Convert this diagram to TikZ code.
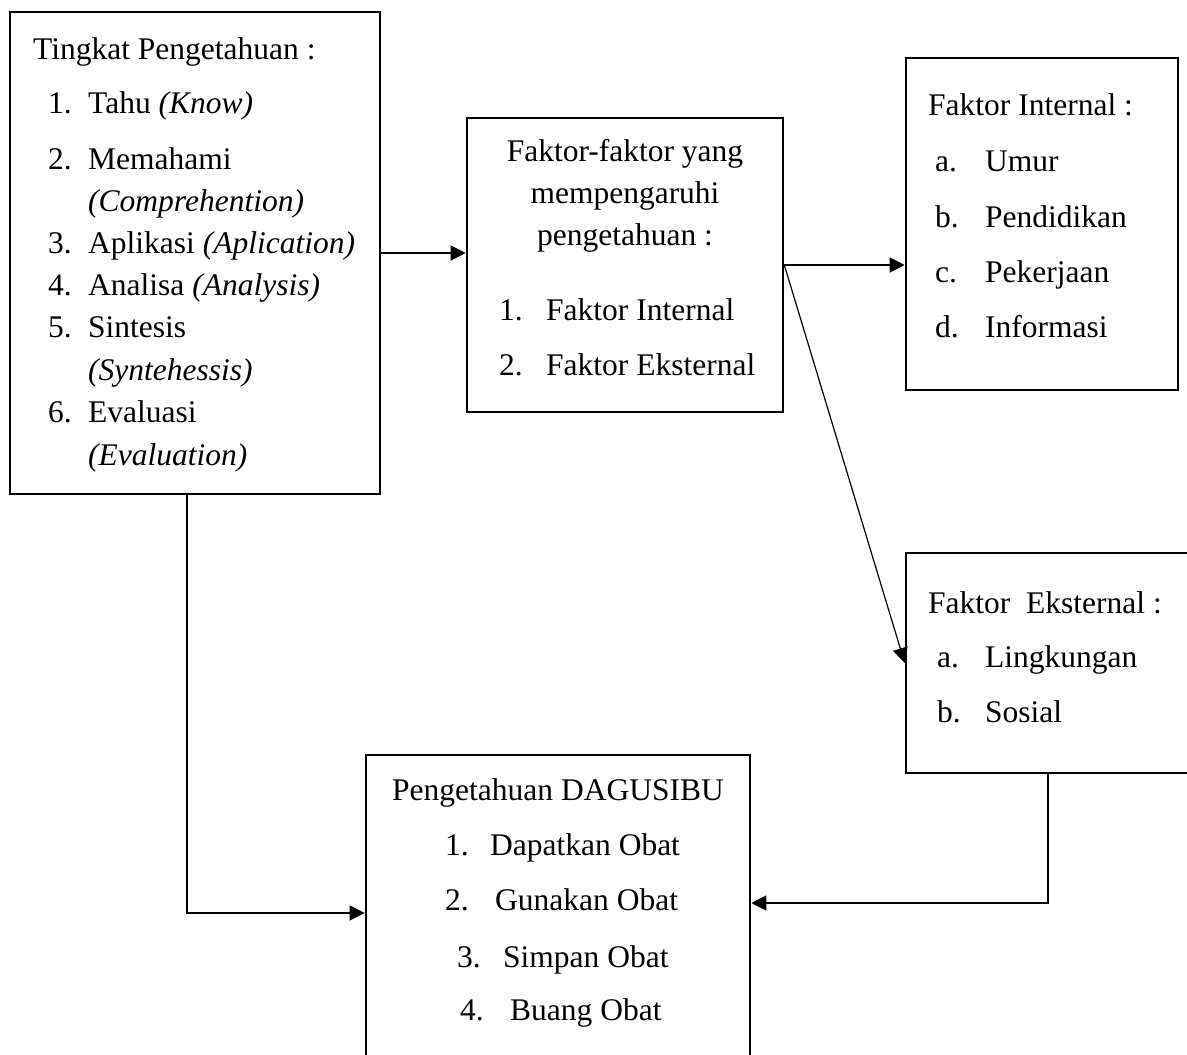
\documentclass[tikz,border=0pt]{standalone}
\usepackage{fontspec}
\setmainfont{Liberation Serif}
\usetikzlibrary{arrows.meta}
\newcommand{\itm}[3]{\makebox[#1][l]{#2}#3}
\begin{document}
\begin{tikzpicture}[x=1pt,y=-1pt,font=\fontsize{31.5}{42}\selectfont]
		\tikzset{box/.style = {draw, line width=2.6pt, inner sep=0pt}}
		\tikzset{txt/.style = {anchor=base west, inner sep=0pt}}
		\tikzset{mid/.style = {anchor=base, inner sep=0pt}}
		\tikzset{edge/.style = {-{Triangle[length=15pt,width=15pt]}, line width=1.2pt}}
		
		\clip (0,0) rectangle (1187,1055);
		
		\node[box, minimum width=370pt, minimum height=482pt] (tingkat)   at ( 195,  253) {};
		\node[box, minimum width=316pt, minimum height=294pt] (faktor)    at ( 625,  265) {};
		\node[box, minimum width=272pt, minimum height=332pt] (internal)  at (1042,  224) {};
		\node[box, minimum width=284pt, minimum height=220pt] (eksternal) at (1048,  663) {};
		\node[box, minimum width=384pt, minimum height=316pt] (dagusibu)  at ( 558,  913) {};
		
		\node[txt] (t0) at ( 33,  59) {Tingkat Pengetahuan :};
		\node[txt] (t1) at ( 48, 113) {\itm{40pt}{1.}{Tahu \textit{(Know)}}};
		\node[txt] (t2) at ( 48, 169) {\itm{40pt}{2.}{Memahami}};
		\node[txt] (t3) at ( 88, 211) {\textit{(Comprehention)}};
		\node[txt] (t4) at ( 48, 253) {\itm{40pt}{3.}{Aplikasi \textit{(Aplication)}}};
		\node[txt] (t5) at ( 48, 295) {\itm{40pt}{4.}{Analisa \textit{(Analysis)}}};
		\node[txt] (t6) at ( 48, 337) {\itm{40pt}{5.}{Sintesis}};
		\node[txt] (t7) at ( 88, 380) {\textit{(Syntehessis)}};
		\node[txt] (t8) at ( 48, 422) {\itm{40pt}{6.}{Evaluasi}};
		\node[txt] (t9) at ( 88, 465) {\textit{(Evaluation)}};
		
		\node[mid] (f0) at (625, 161) {Faktor-faktor yang};
		\node[mid] (f1) at (625, 203) {mempengaruhi};
		\node[mid] (f2) at (625, 245) {pengetahuan :};
		\node[txt] (f3) at (499, 320) {\itm{47pt}{1.}{Faktor Internal}};
		\node[txt] (f4) at (499, 375) {\itm{47pt}{2.}{Faktor Eksternal}};
		
		\node[txt] (i0) at (928, 115) {Faktor Internal :};
		\node[txt] (i1) at (935, 171) {\itm{50pt}{a.}{Umur}};
		\node[txt] (i2) at (935, 227) {\itm{50pt}{b.}{Pendidikan}};
		\node[txt] (i3) at (935, 282) {\itm{50pt}{c.}{Pekerjaan}};
		\node[txt] (i4) at (935, 337) {\itm{50pt}{d.}{Informasi}};
		
		\node[txt] (e0) at (928, 613) {Faktor\ \ Eksternal :};
		\node[txt] (e1) at (937, 667) {\itm{48pt}{a.}{Lingkungan}};
		\node[txt] (e2) at (937, 722) {\itm{48pt}{b.}{Sosial}};
		
		\node[mid] (d0) at (558,  800) {Pengetahuan DAGUSIBU};
		\node[txt] (d1) at (445,  855) {\itm{45pt}{1.}{Dapatkan Obat}};
		\node[txt] (d2) at (445,  910) {\itm{50pt}{2.}{Gunakan Obat}};
		\node[txt] (d3) at (457,  967) {\itm{46pt}{3.}{Simpan Obat}};
		\node[txt] (d4) at (460, 1020) {\itm{50pt}{4.}{Buang Obat}};
		
		\draw[edge] (tingkat.east) -- (tingkat.east -| faktor.west);
		\draw[edge] (faktor.east) -- (faktor.east -| internal.west);
		\draw[edge] (faktor.east) -- (eksternal.west);
		\draw[edge] ([xshift=-8pt]tingkat.south) |- (dagusibu.west);
		\draw[edge] (eksternal.south) |- ([yshift=10pt]dagusibu.east);
\end{tikzpicture}
\end{document}
